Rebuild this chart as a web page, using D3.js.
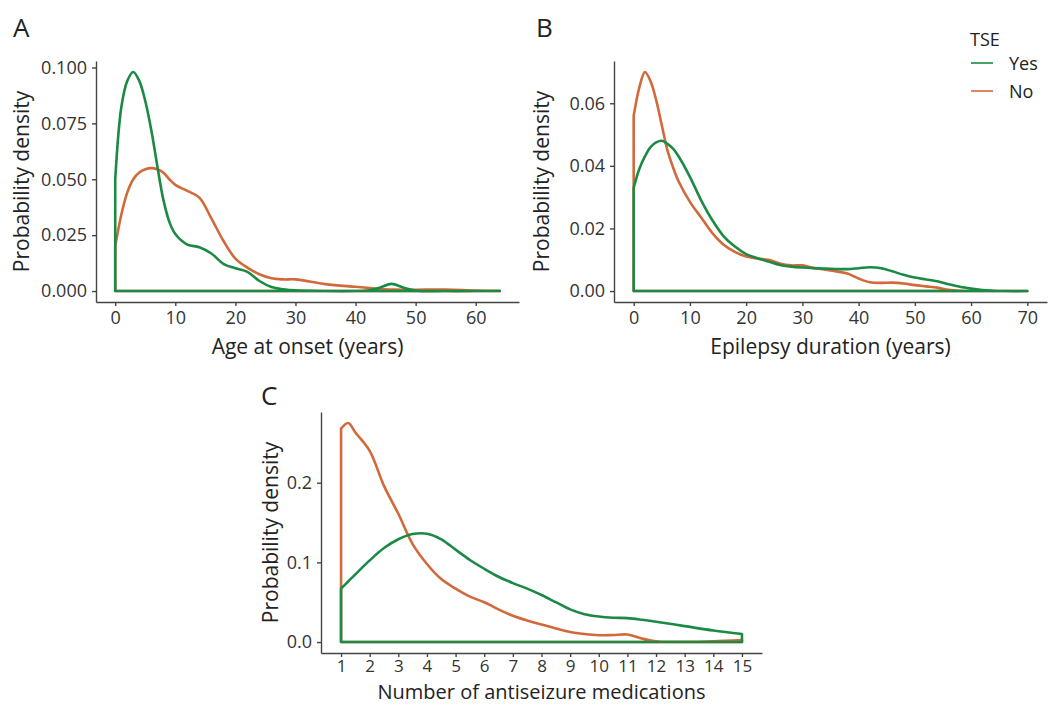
<!DOCTYPE html>
<html>
<head>
<meta charset="utf-8">
<script src="https://cdn.jsdelivr.net/npm/d3@7"></script>
<style>
  body { margin: 0; background: #fff; }
  svg text { font-family: "Open Sans", sans-serif; fill: #222; }
  .axis path, .axis line { stroke: #444; stroke-width: 1.4; }
  .axis text { font-size: 18px; fill: #333; }
</style>
</head>
<body>
<svg id="svg" width="1049" height="705"></svg>
<script>
// --- data ---
var seriesNames = ["Yes", "No"];
var colors = { Yes: "#1b8a45", No: "#d2693a" };

// A: age at onset
var ageX   = [0,1,2,3,4,5,6,7,8,9,10,12,14,16,18,20,22,24,26,28,30,35,40,42,44,46,48,50,55,60,64];
var ageYes = [0.050,0.082,0.094,0.098,0.094,0.085,0.072,0.056,0.041,0.031,0.0255,0.0208,0.0196,0.0168,0.0122,0.0102,0.0086,0.0045,0.0018,0.0008,0.0003,0,0,0.0002,0.0015,0.0032,0.0015,0.0002,0,0,0];
var ageNo  = [0.020,0.034,0.044,0.050,0.053,0.0545,0.055,0.0545,0.053,0.050,0.0475,0.0448,0.0418,0.0325,0.0225,0.0145,0.0105,0.0075,0.0057,0.0052,0.0052,0.0031,0.0019,0.0014,0.0009,0.0007,0.0006,0.0006,0.0007,0.0002,0.0001];
var ageTicksX = [0,10,20,30,40,50,60];
var ageTicksY = [0,0.025,0.05,0.075,0.1];

// B: epilepsy duration
var durX   = [0,1,2,3,4,5,6,7,8,10,12,14,16,18,20,22,24,26,28,30,32,35,38,40,42,44,46,48,50,52,54,56,58,60,62,64,66,70];
var durYes = [0.033,0.039,0.043,0.046,0.0475,0.048,0.047,0.0455,0.043,0.0365,0.029,0.0226,0.0175,0.0142,0.0118,0.0105,0.0094,0.0083,0.0078,0.0075,0.0073,0.0071,0.0070,0.0073,0.0076,0.0073,0.0063,0.0052,0.0043,0.0037,0.0031,0.0022,0.0014,0.0008,0.0003,0.0001,0,0];
var durNo  = [0.056,0.065,0.070,0.067,0.061,0.053,0.045,0.0395,0.035,0.0285,0.0235,0.0185,0.0148,0.0125,0.0110,0.0104,0.0100,0.0088,0.0082,0.0082,0.0074,0.0066,0.0056,0.0040,0.0028,0.0026,0.0027,0.0024,0.0019,0.0015,0.0011,0.0004,0.0001,0,0,0,0,0];
var durTicksX = [0,10,20,30,40,50,60,70];
var durTicksY = [0,0.02,0.04,0.06];

// C: number of antiseizure medications
var asmX   = [1,1.25,1.5,2,2.5,3,3.5,4,4.5,5,5.5,6,6.5,7,7.5,8,8.5,9,9.5,10,10.5,11,11.5,12,13,14,15];
var asmYes = [0.067,0.076,0.085,0.1025,0.118,0.129,0.1355,0.136,0.129,0.116,0.103,0.092,0.082,0.074,0.067,0.059,0.050,0.041,0.035,0.032,0.0305,0.030,0.028,0.0255,0.020,0.0145,0.010];
var asmNo  = [0.268,0.275,0.263,0.240,0.196,0.161,0.123,0.098,0.079,0.067,0.057,0.050,0.041,0.033,0.027,0.022,0.017,0.0125,0.010,0.0085,0.0088,0.0095,0.0045,0.0008,0.0003,0.001,0.0025];
var asmTicksX = [1,2,3,4,5,6,7,8,9,10,11,12,13,14,15];
var asmTicksY = [0,0.1,0.2];

var svg = d3.select("#svg");

// ggplot-like 5% expansion
function expand(ext) {
    var pad = (ext[1] - ext[0]) * 0.05;
    return [ext[0] - pad, ext[1] + pad];
}

function panel(opt) {
    var x = d3.scaleLinear().domain(expand(d3.extent(opt.xs))).range([opt.left, opt.right]);
    var yMax = d3.max(opt.yes.concat(opt.no));
    var y = d3.scaleLinear().domain(expand([0, yMax])).range([opt.bottom, opt.top]);

    var g = svg.append("g");

    // densities, "No" first so "Yes" sits on top
    [["No", opt.no], ["Yes", opt.yes]].forEach(function (s) {
        var pts = opt.xs.map(function (d, i) { return [d, s[1][i]]; });
        var line = d3.line()
            .x(function (d) { return x(d[0]); })
            .y(function (d) { return Math.min(y(d[1]), y(0)); })
            .curve(d3.curveCatmullRom.alpha(0.5));
        var x0 = opt.xs[0], x1 = opt.xs[opt.xs.length - 1];
        var path = "M" + x(x0) + "," + y(0) + "L" + line(pts).slice(1) +
            "L" + x(x1) + "," + y(0) + "Z";
        g.append("path")
            .attr("d", path)
            .attr("fill", "none")
            .attr("stroke", colors[s[0]])
            .attr("stroke-width", 2.6)
            .attr("stroke-linejoin", "round");
    });

    var xAxis = g.append("g").attr("class", "axis")
        .attr("transform", "translate(0," + opt.bottom + ")")
        .call(d3.axisBottom(x).tickValues(opt.ticksX).tickSize(4).tickPadding(opt.xPad).tickSizeOuter(0));
    xAxis.selectAll("text").style("font-size", opt.xTickSize + "px");
    g.append("g").attr("class", "axis")
        .attr("transform", "translate(" + opt.left + ",0)")
        .call(d3.axisLeft(y).tickValues(opt.ticksY).tickFormat(d3.format(opt.fmt)).tickSize(4).tickPadding(5).tickSizeOuter(0));

    g.append("text")
        .attr("x", (opt.left + opt.right) / 2)
        .attr("y", opt.bottom + opt.titleGap)
        .attr("text-anchor", "middle")
        .style("font-size", opt.xTitleSize + "px")
        .text(opt.xTitle);
    g.append("text")
        .attr("transform", "translate(" + (opt.left - opt.yTitleGap) + "," + ((opt.top + opt.bottom) / 2) + ") rotate(-90)")
        .attr("text-anchor", "middle")
        .style("font-size", "21px")
        .text("Probability density");
    g.append("text")
        .attr("x", opt.labelX)
        .attr("y", opt.labelY)
        .style("font-size", "26px")
        .text(opt.label);
}

panel({ xs: ageX, yes: ageYes, no: ageNo, ticksX: ageTicksX, ticksY: ageTicksY, fmt: ".3f",
    left: 96, right: 519, top: 61, bottom: 302, titleGap: 52, yTitleGap: 67, xPad: 5, xTickSize: 18, xTitleSize: 21,
    xTitle: "Age at onset (years)", label: "A", labelX: 13, labelY: 37 });
panel({ xs: durX, yes: durYes, no: durNo, ticksX: durTicksX, ticksY: durTicksY, fmt: ".2f",
    left: 614, right: 1047, top: 61, bottom: 302, titleGap: 52, yTitleGap: 65, xPad: 5, xTickSize: 18, xTitleSize: 21,
    xTitle: "Epilepsy duration (years)", label: "B", labelX: 536, labelY: 37 });
panel({ xs: asmX, yes: asmYes, no: asmNo, ticksX: asmTicksX, ticksY: asmTicksY, fmt: ".1f",
    left: 321, right: 762, top: 412, bottom: 653, titleGap: 46, yTitleGap: 43, xPad: 3, xTickSize: 17, xTitleSize: 20,
    xTitle: "Number of antiseizure medications", label: "C", labelX: 261, labelY: 405 });

// legend
var leg = svg.append("g");
leg.append("text").attr("x", 970).attr("y", 46).style("font-size", "18px").text("TSE");
seriesNames.forEach(function (n, i) {
    var yy = 63 + i * 28;
    leg.append("line").attr("x1", 971).attr("x2", 993).attr("y1", yy).attr("y2", yy)
        .attr("stroke", colors[n]).attr("stroke-width", 1.6);
    leg.append("text").attr("x", 1009).attr("y", yy + 6.5).style("font-size", "18px").text(n);
});
</script>
</body>
</html>
